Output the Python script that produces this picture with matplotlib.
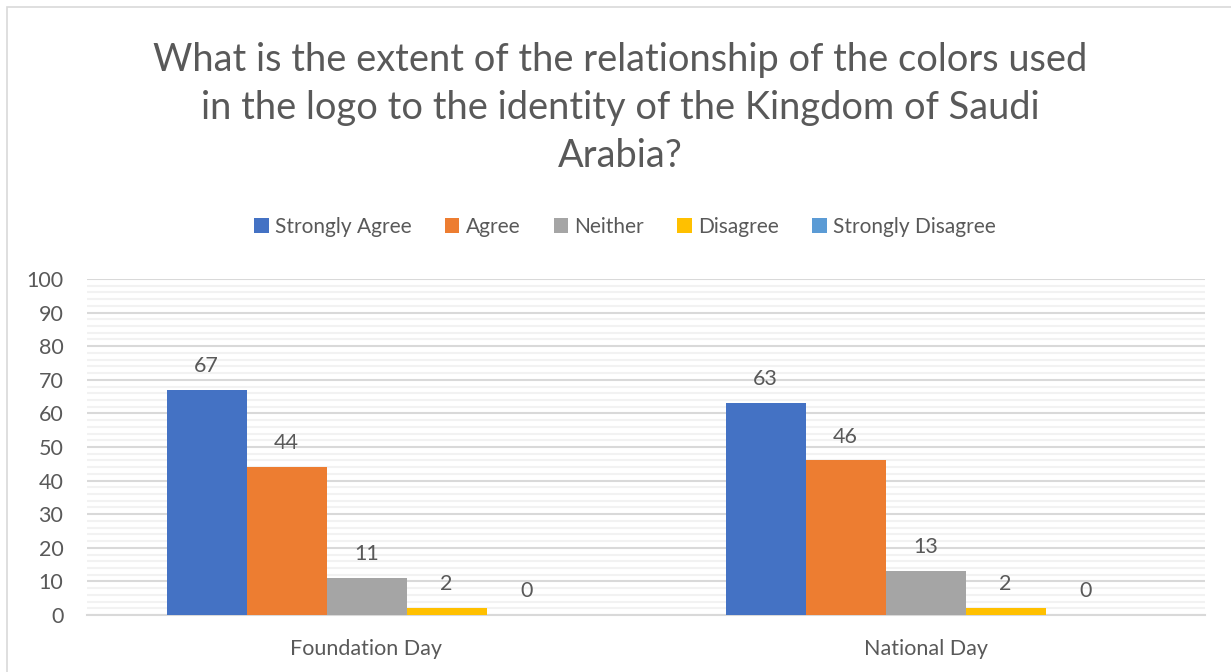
import matplotlib
matplotlib.use("Agg")
import matplotlib.pyplot as plt
from matplotlib.patches import Patch, Rectangle
from matplotlib.ticker import MultipleLocator
import numpy as np

plt.rcParams['font.family'] = ['Lato', 'DejaVu Sans']

categories = ["Foundation Day", "National Day"]
series_names = ["Strongly Agree", "Agree", "Neither", "Disagree", "Strongly Disagree"]
strongly_agree = [67, 63]
agree = [44, 46]
neither = [11, 13]
disagree = [2, 2]
strongly_disagree = [0, 0]
values = [strongly_agree, agree, neither, disagree, strongly_disagree]
colors = ["#4472C4", "#ED7D31", "#A5A5A5", "#FFC000", "#5B9BD5"]
title = "What is the extent of the relationship of the colors used\nin the logo to the identity of the Kingdom of Saudi\nArabia?"

text_color = "#595959"

fig = plt.figure(figsize=(12.31, 6.72), dpi=100)
ax = fig.add_axes([87 / 1231, 1 - 615 / 672, 1118 / 1231, 336 / 672])

# chart frame
fig.patches.append(Rectangle((7 / 1231, -0.1), 1.2, 1.1 - 7 / 672, transform=fig.transFigure,
                             fill=False, edgecolor="#d9d9d9", linewidth=1.2))

x = np.arange(len(categories))
bar_w = 80 / 559
n = len(series_names)
for i, (name, vals, c) in enumerate(zip(series_names, values, colors)):
    offs = (i - (n - 1) / 2) * bar_w
    ax.bar(x + offs, vals, width=bar_w, color=c, label=name, zorder=3)
    for xb, v in zip(x + offs, vals):
        ax.annotate(f"{v}", (xb, v), xytext=(0, 10), textcoords="offset points",
                    ha="center", va="bottom", fontsize=15.5, color=text_color)

ax.set_xlim(-0.5, 1.5)
ax.set_ylim(0, 100)
ax.yaxis.set_major_locator(MultipleLocator(10))
ax.yaxis.set_minor_locator(MultipleLocator(2))
ax.grid(axis="y", which="major", color="#d9d9d9", linewidth=1.5, zorder=0)
ax.grid(axis="y", which="minor", color="#f2f2f2", linewidth=1.5, zorder=0)
ax.set_axisbelow(True)
for s in ["top", "right", "left"]:
    ax.spines[s].set_visible(False)
ax.spines["bottom"].set_color("#d9d9d9")
ax.spines["bottom"].set_linewidth(1.5)
ax.set_xticks(x)
ax.set_xticklabels(categories)
ax.tick_params(axis="both", which="both", length=0, labelsize=15.5, labelcolor=text_color)
ax.tick_params(axis="x", pad=17)
ax.tick_params(axis="y", pad=17)

fig.text(620 / 1231, 1 - 108 / 672, title, ha="center", va="center", fontsize=27.4,
         color=text_color, linespacing=1.4)

handles = [Patch(facecolor=c, label=nm) for nm, c in zip(series_names, colors)]
fig.legend(handles=handles, loc="center", bbox_to_anchor=(625 / 1231, 1 - 227 / 672), ncol=5,
           frameon=False, fontsize=15, labelcolor=text_color, handlelength=0.7, handleheight=0.7,
           handletextpad=0.3, columnspacing=1.6)

fig.savefig("out.png", dpi=100, facecolor="white")
